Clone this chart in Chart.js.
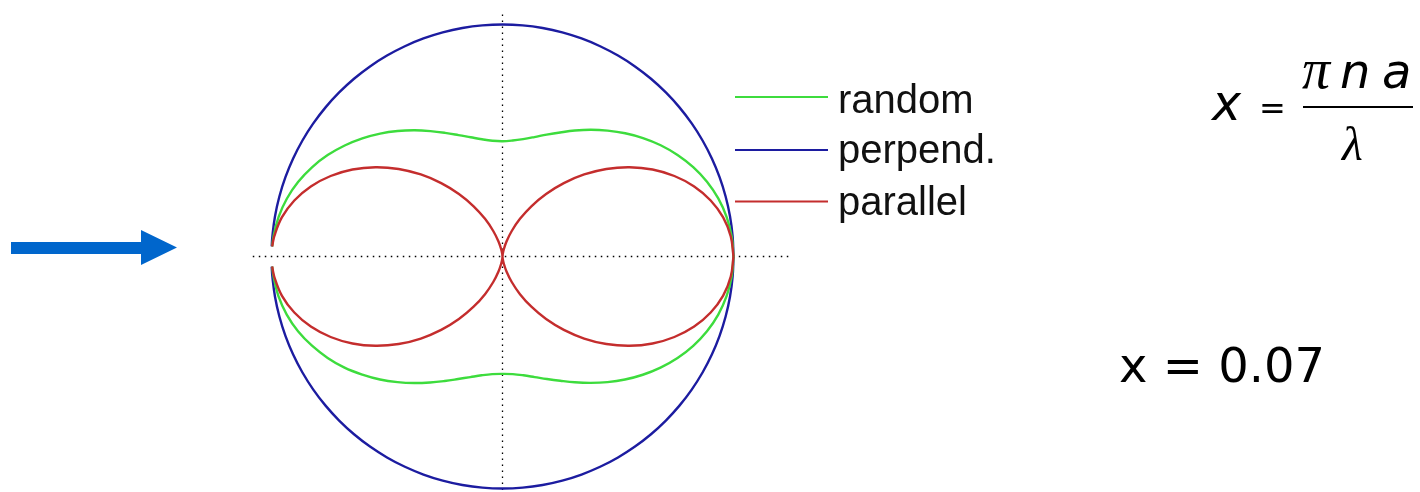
<!DOCTYPE html>
<html>
<head>
<meta charset="utf-8">
<title>Scattering pattern, x = 0.07</title>
<script src="https://cdn.jsdelivr.net/npm/chart.js@4.4.1/dist/chart.umd.min.js"></script>
<style>
    html, body { margin: 0; padding: 0; background: #ffffff; }
    #wrap { position: relative; width: 1420px; height: 492px; overflow: hidden; }
    #scatter-chart { position: absolute; left: 0; top: 0; }
    #overlay { position: absolute; left: 0; top: 0; }
</style>
</head>
<body>
<div id="wrap">
    <canvas id="scatter-chart" width="1420" height="492"></canvas>
    <svg id="overlay" width="1420" height="492" xmlns="http://www.w3.org/2000/svg"></svg>
</div>
<script>
// Scattering angle in degrees, measured from the forward direction (arrow points right)
const angles = [
    0, 5, 10, 15, 20, 25, 30, 35, 40, 45, 50, 55, 60, 65, 70, 75, 80, 85,
    90, 95, 100, 105, 110, 115, 120, 125, 130, 135, 140, 145, 150, 155, 160, 165,
    170, 175, 177.5, 180, 182.5, 185, 190, 195, 200, 205, 210, 215, 220, 225, 230, 235,
    240, 245, 250, 255, 260, 265, 270, 275, 280, 285, 290, 295, 300, 305, 310, 315,
    320, 325, 330, 335, 340, 345, 350, 355, 360
];

// Relative intensity (1 = outer circle), null = gap at 180 deg
const randomValues = [
    1.000, 0.996, 0.985, 0.967, 0.942, 0.911, 0.875, 0.836, 0.794, 0.751, 0.708, 0.667, 0.627, 0.590, 0.559, 0.533, 0.514, 0.502,
    0.497, 0.501, 0.513, 0.532, 0.557, 0.588, 0.624, 0.664, 0.706, 0.749, 0.792, 0.834, 0.874, 0.910, 0.941, 0.966,
    0.984, 0.995, 0.998, null, 0.998, 0.995, 0.985, 0.967, 0.942, 0.910, 0.874, 0.835, 0.792, 0.750, 0.707, 0.666,
    0.627, 0.592, 0.562, 0.538, 0.520, 0.509, 0.506, 0.509, 0.520, 0.538, 0.562, 0.591, 0.626, 0.665, 0.707, 0.750,
    0.793, 0.835, 0.875, 0.911, 0.942, 0.967, 0.985, 0.996, 1.000
];

const perpendValues = [
    1.000, 1.000, 1.000, 1.000, 1.000, 1.000, 1.000, 1.000, 1.000, 1.000, 1.000, 1.000, 1.000, 1.000, 1.000, 1.000, 1.000, 1.000,
    1.000, 1.000, 1.000, 1.000, 1.000, 1.000, 1.000, 1.000, 1.000, 1.000, 1.000, 1.000, 1.000, 1.000, 1.000, 1.000,
    1.000, 1.000, 1.000, null, 1.000, 1.000, 1.000, 1.000, 1.000, 1.000, 1.000, 1.000, 1.000, 1.000, 1.000, 1.000,
    1.000, 1.000, 1.000, 1.000, 1.000, 1.000, 1.000, 1.000, 1.000, 1.000, 1.000, 1.000, 1.000, 1.000, 1.000, 1.000,
    1.000, 1.000, 1.000, 1.000, 1.000, 1.000, 1.000, 1.000, 1.000
];

const parallelValues = [
    1.000, 0.992, 0.970, 0.933, 0.883, 0.821, 0.750, 0.671, 0.587, 0.500, 0.413, 0.329, 0.250, 0.179, 0.117, 0.067, 0.030, 0.008,
    0.000, 0.008, 0.030, 0.067, 0.117, 0.179, 0.250, 0.329, 0.413, 0.500, 0.587, 0.671, 0.750, 0.821, 0.883, 0.933,
    0.970, 0.992, 0.998, null, 0.998, 0.992, 0.970, 0.933, 0.883, 0.821, 0.750, 0.671, 0.587, 0.500, 0.413, 0.329,
    0.250, 0.179, 0.117, 0.067, 0.030, 0.008, 0.000, 0.008, 0.030, 0.067, 0.117, 0.179, 0.250, 0.329, 0.413, 0.500,
    0.587, 0.671, 0.750, 0.821, 0.883, 0.933, 0.970, 0.992, 1.000
];

// Dotted reference axes through the particle (plot units)
const hAxisX = [-1.081, 1.253];
const vAxisY = [-1.006, 1.062];

// Legend entries, in the order shown
const legendLabels = ['random', 'perpend.', 'parallel'];

const COLORS = {
    random: '#3ddc3d',
    perpend: '#1c1ca0',
    parallel: '#c42d2d'
};

/**
 * Turn a polar series into scatter points
 */
function toXY(values) {
    return values.map((r, i) => {
        if (r === null) return { x: null, y: null };
        const t = angles[i] * Math.PI / 180;
        return { x: r * Math.cos(t), y: r * Math.sin(t) };
    });
}

function curve(label, values, color) {
    return {
        label: label,
        data: toXY(values),
        borderColor: color,
        borderWidth: 2.4,
        pointRadius: 0,
        showLine: true,
        fill: false,
        tension: 0.4,
        spanGaps: false
    };
}

function dottedLine(points) {
    return {
        label: 'axis',
        data: points,
        borderColor: '#000000',
        borderWidth: 1.3,
        borderDash: [1.5, 4.5],
        pointRadius: 0,
        showLine: true,
        fill: false,
        tension: 0
    };
}

// First dataset is painted last, so parallel ends up on top
const datasets = [
    curve('parallel', parallelValues, COLORS.parallel),
    curve('random', randomValues, COLORS.random),
    curve('perpend.', perpendValues, COLORS.perpend),
    dottedLine([{ x: hAxisX[0], y: 0 }, { x: hAxisX[1], y: 0 }]),
    dottedLine([{ x: 0, y: vAxisY[0] }, { x: 0, y: vAxisY[1] }])
];

new Chart(document.getElementById('scatter-chart'), {
    type: 'scatter',
    data: { datasets: datasets },
    options: {
        responsive: false,
        animation: false,
        layout: { padding: 0 },
        plugins: {
            legend: { display: false },
            tooltip: { enabled: false }
        },
        scales: {
            // centre at (502.5, 256.5) px, 231 px per unit across, 232 px per unit up
            x: { type: 'linear', display: false, min: -502.5 / 231, max: 917.5 / 231 },
            y: { type: 'linear', display: false, min: -235.5 / 232, max: 256.5 / 232 }
        }
    }
});

/**
 * Legend, formula, arrow and label drawn as SVG next to the chart
 */
function buildOverlay() {
    const svg = document.getElementById('overlay');
    const ns = 'http://www.w3.org/2000/svg';

    function add(tag, attrs, text) {
        const el = document.createElementNS(ns, tag);
        for (const k in attrs) el.setAttribute(k, attrs[k]);
        if (text !== undefined) el.textContent = text;
        svg.appendChild(el);
        return el;
    }

    // incident beam arrow
    add('polygon', {
        points: '11,242 141,242 141,230 177,247.5 141,265 141,254 11,254',
        fill: '#0066cc'
    });

    // legend
    const legendColors = [COLORS.random, COLORS.perpend, COLORS.parallel];
    const lineY = [97, 150, 201.5];
    const baseY = [112.5, 163, 215];
    legendLabels.forEach((label, i) => {
        add('line', { x1: 735, x2: 828, y1: lineY[i], y2: lineY[i], stroke: legendColors[i], 'stroke-width': 2.2 });
        add('text', {
            x: 838, y: baseY[i],
            'font-family': 'Liberation Sans, Arial, sans-serif',
            'font-size': 40, fill: '#111111'
        }, label);
    });

    // x = pi n a / lambda
    add('text', { x: 1212, y: 120, 'font-family': 'DejaVu Sans, sans-serif', 'font-style': 'italic', 'font-size': 49, fill: '#000' }, 'x');
    add('text', { x: 1259, y: 119, 'font-family': 'DejaVu Sans, sans-serif', 'font-size': 32, fill: '#000' }, '=');
    add('line', { x1: 1303, x2: 1413, y1: 107, y2: 107, stroke: '#000', 'stroke-width': 2 });
    add('text', { x: 1302, y: 88, 'font-family': 'Liberation Serif, serif', 'font-style': 'italic', 'font-size': 56, fill: '#000' }, 'π');
    add('text', { x: 1340, y: 88, 'font-family': 'DejaVu Sans, sans-serif', 'font-style': 'italic', 'font-size': 48, fill: '#000' }, 'n');
    add('text', { x: 1382, y: 88, 'font-family': 'DejaVu Sans, sans-serif', 'font-style': 'italic', 'font-size': 48, fill: '#000' }, 'a');
    add('text', { x: 1342, y: 160, 'font-family': 'Liberation Serif, serif', 'font-style': 'italic', 'font-size': 48, fill: '#000' }, 'λ');

    // size parameter value
    add('text', { x: 1119, y: 382, 'font-family': 'DejaVu Sans, sans-serif', 'font-size': 48, fill: '#000' }, 'x = 0.07');
}

buildOverlay();
</script>
</body>
</html>
